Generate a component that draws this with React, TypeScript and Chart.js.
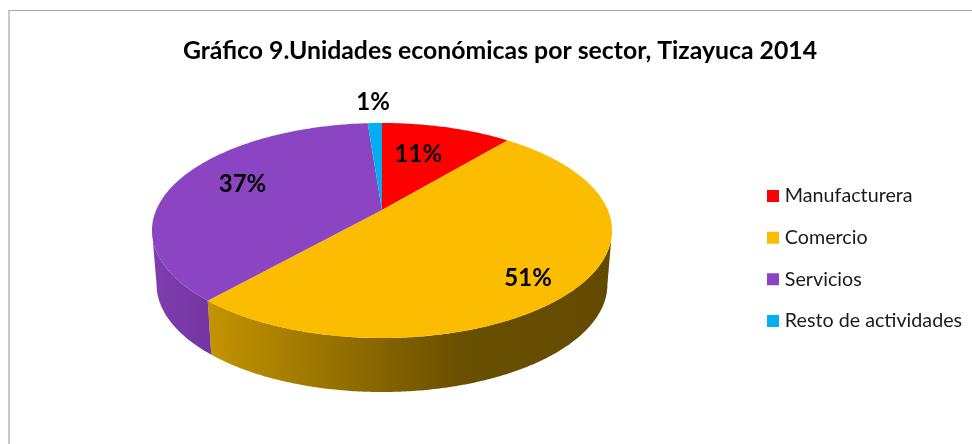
import React, { useEffect, useRef } from "react";
import { Chart, registerables } from "chart.js";

Chart.register(...registerables);

const titleText = "Gráfico 9.Unidades económicas por sector, Tizayuca 2014";
const categories = ["Manufacturera", "Comercio", "Servicios", "Resto de actividades"];
const shares = [11, 50.5, 37.3, 1.2];
const sliceColors = ["#FF0000", "#FCBD00", "#8C45C2", "#00B0F0"];
const labelRadii = [0.62, 0.82, 0.7, 1.3];
const labelTurnsDeg = [-3, 5, 3.5, 0];

const CX = 382, APEX_Y = 210, A = 225.8, B = 103.6, K = 0.1907, DEPTH = 54, BOTTOM_SCALE = 0.98;

function project(t: number, r: number) {
  const u = r * Math.sin(t);
  const v = r * Math.cos(t);
  const w = 1 + K * v;
  return { x: CX + (A * u) / w, y: APEX_Y - (B * v) / w };
}

const pie3d = {
  id: "pie3d",
  afterLayout(chart: any) {
    const t = chart.titleBlock;
    if (t) { t.left = 28; t.right = 972; }
    const l = chart.legend;
    if (l) {
      const h = l.bottom - l.top;
      const pad = l.options.labels.padding;
      l.left = 771 - pad;
      l.right = 972;
      const center = 258.5;
      l.top = center - h / 2;
      l.bottom = center + h / 2;
    }
  },
  beforeDatasetDraw(chart: any) {
    const ctx = chart.ctx;
    const arcs = chart.getDatasetMeta(0).data;
    const visFrom = Math.acos(-K);
    const visTo = 2 * Math.PI - visFrom;
    const rim = (t0: number, t1: number) => {
      const pts = [];
      const n = Math.max(2, Math.ceil(Math.abs(t1 - t0) / 0.01));
      for (let i = 0; i <= n; i++) pts.push(project(t0 + ((t1 - t0) * i) / n, 1));
      return pts;
    };
    const sideStops: Record<number, [number, string][]> = {
      1: [[0, "#C49400"], [0.62, "#6A5000"], [1, "#634A00"]],
      2: [[0, "#7F3DAE"], [1, "#7335A2"]],
    };
    const sideSpan: Record<number, [number, number]> = { 1: [208, 612], 2: [152, 214] };
    arcs.forEach((arc: any, i: number) => {
      const t0 = Math.max(arc.startAngle + Math.PI / 2, visFrom);
      const t1 = Math.min(arc.endAngle + Math.PI / 2, visTo);
      if (t1 <= t0 || !sideStops[i]) return;
      const top = rim(t0, t1);
      const bottom = top
        .slice()
        .reverse()
        .map((p) => ({ x: CX + (p.x - CX) * BOTTOM_SCALE, y: p.y + DEPTH }));
      const g = ctx.createLinearGradient(sideSpan[i][0], 0, sideSpan[i][1], 0);
      sideStops[i].forEach(([o, c]) => g.addColorStop(o, c));
      ctx.beginPath();
      [...top, ...bottom].forEach((p, k) => (k ? ctx.lineTo(p.x, p.y) : ctx.moveTo(p.x, p.y)));
      ctx.closePath();
      ctx.fillStyle = g;
      ctx.fill();
    });
    arcs.forEach((arc: any, i: number) => {
      const pts = rim(arc.startAngle + Math.PI / 2, arc.endAngle + Math.PI / 2);
      ctx.beginPath();
      ctx.moveTo(CX, APEX_Y);
      pts.forEach((p) => ctx.lineTo(p.x, p.y));
      ctx.closePath();
      ctx.fillStyle = sliceColors[i];
      ctx.fill();
    });
    ctx.save();
    ctx.font = "bold 24px Lato";
    ctx.fillStyle = "#000";
    ctx.textAlign = "center";
    ctx.textBaseline = "middle";
    arcs.forEach((arc: any, i: number) => {
      const mid = (arc.startAngle + arc.endAngle) / 2 + Math.PI / 2 + (labelTurnsDeg[i] * Math.PI) / 180;
      const p = project(mid, labelRadii[i]);
      ctx.fillText(`${Math.round(shares[i])}%`, p.x, p.y);
    });
    ctx.restore();
    return false;
  },
};

export default function App() {
  const ref = useRef<HTMLCanvasElement>(null);
  useEffect(() => {
    const chart = new Chart(ref.current!, {
      type: "pie",
      data: {
        labels: categories,
        datasets: [{ data: shares, backgroundColor: sliceColors, borderWidth: 0 }],
      },
      options: {
        animation: false,
        responsive: false,
        plugins: {
          title: {
            display: true,
            text: titleText,
            color: "#000",
            font: { family: "Lato", size: 24.8, weight: "bold" },
            padding: { top: 36, bottom: 20 },
          },
          legend: {
            position: "right",
            labels: {
              usePointStyle: true,
              pointStyle: "rect",
              boxWidth: 4,
              boxHeight: 12,
              padding: 22,
              color: "#1a1a1a",
              font: { family: "Lato", size: 19.7 },
            },
          },
          tooltip: { enabled: false },
        },
      },
      plugins: [pie3d],
    } as any);
    return () => chart.destroy();
  }, []);
  return (
    <div style={{ position: "absolute", left: 0, top: 0, width: 972, height: 444, background: "#fff", overflow: "hidden" }}>
      <div style={{ position: "absolute", left: 8, top: 10, width: 970, height: 440, borderLeft: "2px solid #c9c9c9", borderTop: "1px solid #a9a9a9" }} />
      <canvas ref={ref} width={972} height={444} style={{ position: "absolute", left: 0, top: 0 }} />
    </div>
  );
}
